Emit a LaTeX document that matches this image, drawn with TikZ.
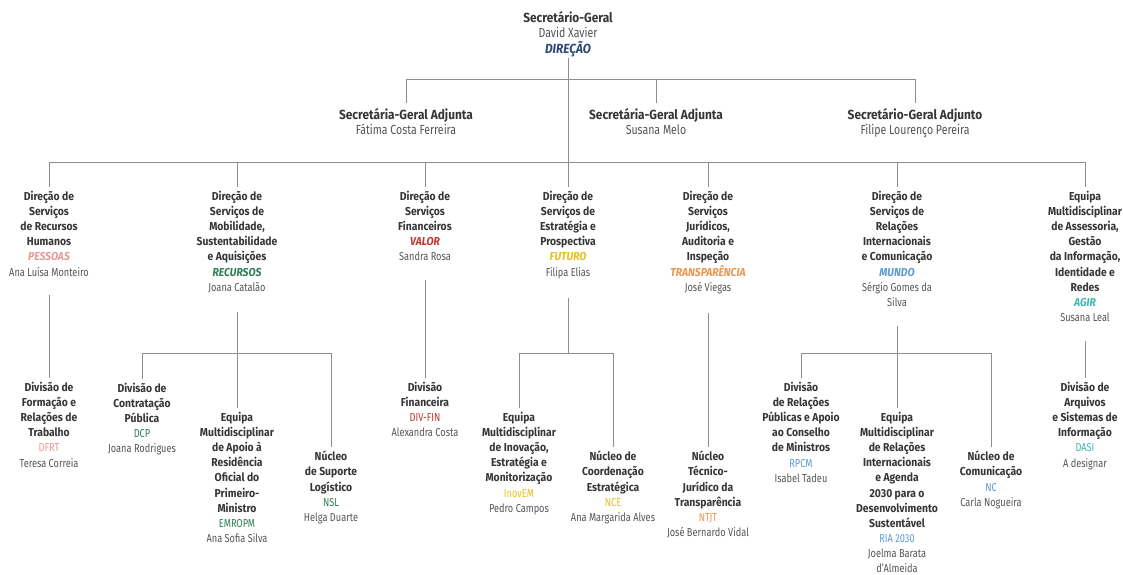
\documentclass[tikz,border=0pt]{standalone}
\usepackage{fontspec}
\setmainfont{Fira Sans}[FakeStretch=0.8,
  BoldFeatures={FakeStretch=0.9},
  BoldItalicFeatures={FakeStretch=0.9}]
\definecolor{titlec}{HTML}{363636}
\definecolor{namec}{HTML}{555555}
\definecolor{linec}{HTML}{8E8E8E}
\definecolor{dirc}{HTML}{2B4A75}
\definecolor{pes}{HTML}{E59A9A}
\definecolor{rec}{HTML}{2F7D57}
\definecolor{val}{HTML}{C0392B}
\definecolor{fut}{HTML}{E6C020}
\definecolor{tra}{HTML}{EC9450}
\definecolor{mun}{HTML}{5A9BD1}
\definecolor{agi}{HTML}{3CB8B0}
% line helpers: keyword (bold italic), abbreviation (regular, coloured), person name
\newcommand\kw[2]{{\itshape\color{#1}#2}}
\newcommand\ab[2]{{\mdseries\color{#1}#2}}
\newcommand\nm[1]{{\mdseries\color{namec}#1}}
\tikzset{
  unit/.style={align=center, inner sep=0pt, anchor=north, text=titlec,
    font=\fontsize{11.5}{15.1}\selectfont\bfseries},
  head/.style={unit, font=\fontsize{13.2}{15.5}\selectfont\bfseries},
  link/.style={draw=linec, line width=0.8pt},
}
\begin{document}
\begin{tikzpicture}[x=1pt,y=-1pt]
\useasboundingbox[fill=white] (0,0) rectangle (1123,574);

% top level
\node[head] (sg) at (568,11) {Secretário-Geral\\\nm{David Xavier}\\\kw{dirc}{DIREÇÃO}};
\node[head] (sga1) at (406,108) {Secretária-Geral Adjunta\\\nm{Fátima Costa Ferreira}};
\node[head] (sga2) at (656,108) {Secretária-Geral Adjunta\\\nm{Susana Melo}};
\node[head] (sga3) at (915,108) {Secretário-Geral Adjunto\\\nm{Filipe Lourenço Pereira}};

% directorates
\node[unit] (dsrh) at (49,191) {Direção de\\Serviços\\de Recursos\\Humanos\\\kw{pes}{PESSOAS}\\\nm{Ana Luísa Monteiro}};
\node[unit] (dsmsa) at (237,191) {Direção de\\Serviços de\\Mobilidade,\\Sustentabilidade\\e Aquisições\\\kw{rec}{RECURSOS}\\\nm{Joana Catalão}};
\node[unit] (dsf) at (425,191) {Direção de\\Serviços\\Financeiros\\\kw{val}{VALOR}\\\nm{Sandra Rosa}};
\node[unit] (dsep) at (568,191) {Direção de\\Serviços de\\Estratégia e\\Prospectiva\\\kw{fut}{FUTURO}\\\nm{Filipa Elias}};
\node[unit] (dsjai) at (708,191) {Direção de\\Serviços\\Jurídicos,\\Auditoria e\\Inspeção\\\kw{tra}{TRANSPARÊNCIA}\\\nm{José Viegas}};
\node[unit] (dsric) at (897,191) {Direção de\\Serviços de\\Relações\\Internacionais\\e Comunicação\\\kw{mun}{MUNDO}\\\nm{Sérgio Gomes da}\\\nm{Silva}};
\node[unit] (agir) at (1085,191) {Equipa\\Multidisciplinar\\de Assessoria,\\Gestão\\da Informação,\\Identidade e\\Redes\\\kw{agi}{AGIR}\\\nm{Susana Leal}};

% divisions and units
\node[unit] (dfrt) at (49,382) {Divisão de\\Formação e\\Relações de\\Trabalho\\\ab{pes}{DFRT}\\\nm{Teresa Correia}};
\node[unit] (dcp) at (142,383) {Divisão de\\Contratação\\Pública\\\ab{rec}{DCP}\\\nm{Joana Rodrigues}};
\node[unit] (emropm) at (237,412) {Equipa\\Multidisciplinar\\de Apoio à\\Residência\\Oficial do\\Primeiro-\\Ministro\\\ab{rec}{EMROPM}\\\nm{Ana Sofia Silva}};
\node[unit] (nsl) at (331,451) {Núcleo\\de Suporte\\Logístico\\\ab{rec}{NSL}\\\nm{Helga Duarte}};
\node[unit] (divfin) at (425,382) {Divisão\\Financeira\\\ab{val}{DIV-FIN}\\\nm{Alexandra Costa}};
\node[unit] (inovem) at (519,412) {Equipa\\Multidisciplinar\\de Inovação,\\Estratégia e\\Monitorização\\\ab{fut}{InovEM}\\\nm{Pedro Campos}};
\node[unit] (nce) at (613,451) {Núcleo de\\Coordenação\\Estratégica\\\ab{fut}{NCE}\\\nm{Ana Margarida Alves}};
\node[unit] (ntjt) at (708,451) {Núcleo\\Técnico-\\Jurídico da\\Transparência\\\ab{tra}{NTJT}\\\nm{José Bernardo Vidal}};
\node[unit] (rpcm) at (801,382) {Divisão\\de Relações\\Públicas e Apoio\\ao Conselho\\de Ministros\\\ab{mun}{RPCM}\\\nm{Isabel Tadeu}};
\node[unit] (ria) at (897,412) {Equipa\\Multidisciplinar\\de Relações\\Internacionais\\e Agenda\\2030 para o\\Desenvolvimento\\Sustentável\\\ab{mun}{RIA 2030}\\\nm{Joelma Barata}\\\nm{d'Almeida}};
\node[unit] (nc) at (991,451) {Núcleo de\\Comunicação\\\ab{mun}{NC}\\\nm{Carla Nogueira}};
\node[unit] (dasi) at (1085,382) {Divisão de\\Arquivos\\e Sistemas de\\Informação\\\ab{agi}{DASI}\\\nm{A designar}};

% bus junctions
\coordinate (b1) at (568,79);
\coordinate (b2) at (568,162);
\coordinate (bm) at (237,353);
\coordinate (be) at (568,353);
\coordinate (br) at (897,353);

% main spine
\draw[link, shorten <=1pt, shorten >=4pt] (sg.south) -- (dsep.north);
\foreach \n in {sga1,sga2,sga3}
  \draw[link, shorten >=5pt] (b1) -| (\n.north);
\foreach \n in {dsrh,dsmsa,dsf,dsjai,dsric,agir}
  \draw[link, shorten >=4pt] (b2) -| (\n.north);

% single-child branches
\draw[link, shorten <=19pt, shorten >=4pt] (dsrh.south) -- (dfrt.north);
\draw[link, shorten <=19pt, shorten >=4pt] (dsf.south) -- (divfin.north);
\draw[link, shorten <=19pt, shorten >=4pt] (dsjai.south) -- (ntjt.north);
\draw[link, shorten <=19pt, shorten >=4pt] (agir.south) -- (dasi.north);

% multi-child branches
\draw[link, shorten <=19pt] (dsmsa.south) -- (bm);
\foreach \n in {dcp,emropm,nsl}
  \draw[link, shorten >=4pt] (bm) -| (\n.north);
\draw[link, shorten <=19pt] (dsep.south) -- (be);
\foreach \n in {inovem,nce}
  \draw[link, shorten >=4pt] (be) -| (\n.north);
\draw[link, shorten <=19pt] (dsric.south) -- (br);
\foreach \n in {rpcm,ria,nc}
  \draw[link, shorten >=4pt] (br) -| (\n.north);
\end{tikzpicture}
\end{document}
